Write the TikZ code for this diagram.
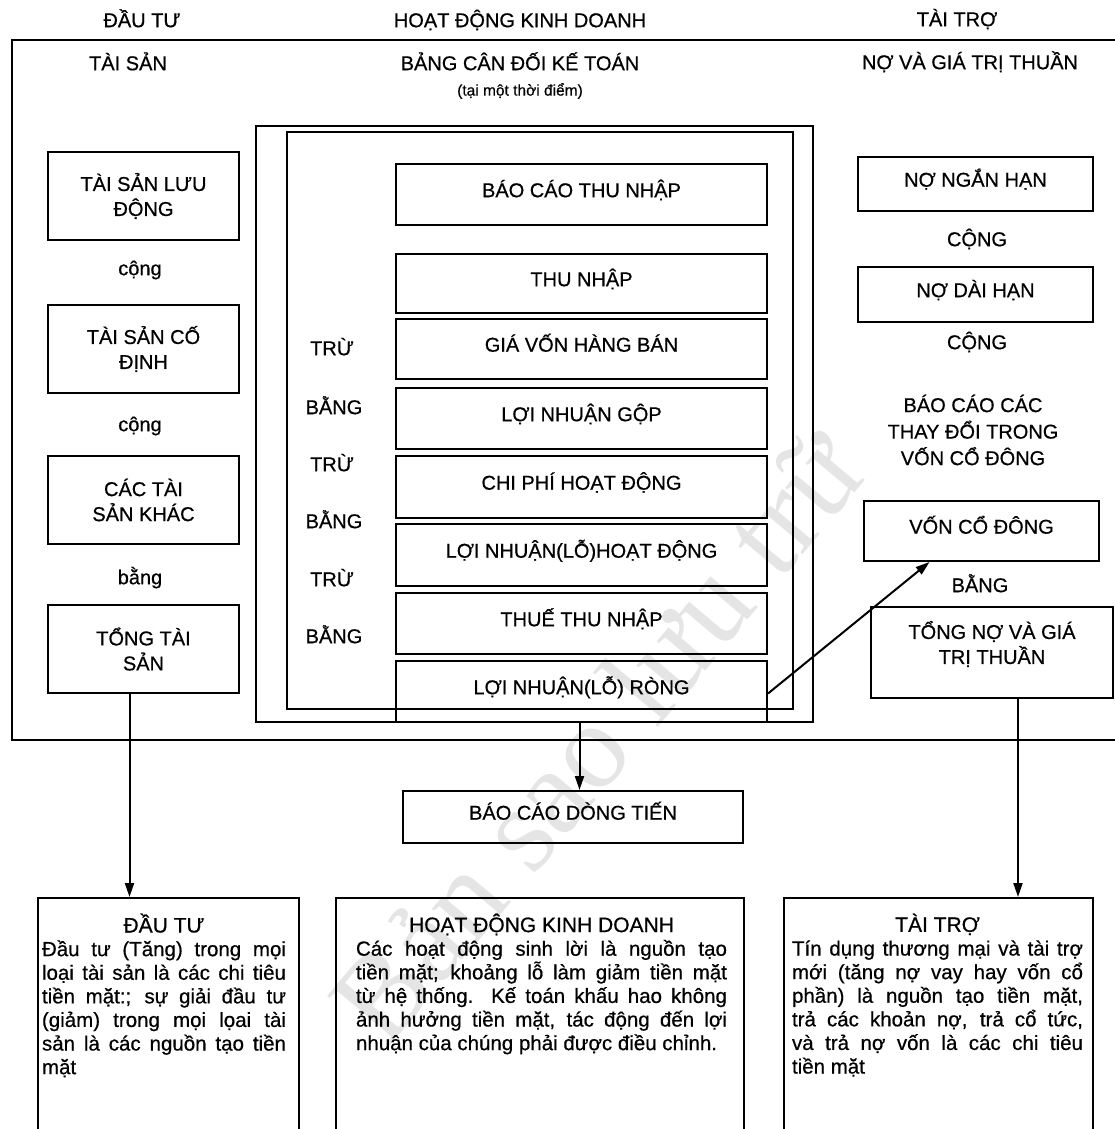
\documentclass[tikz,border=0pt]{standalone}
\usepackage{fontspec}
\setmainfont{Liberation Sans}[FakeBold=0.6]
\newfontfamily\wmfont{Liberation Serif}
\usetikzlibrary{arrows.meta}
\newcommand\hfont{\fontsize{20}{25}\selectfont}
\newcommand\sfont{\fontsize{15.5}{19}\selectfont}
\newcommand\bfont{\fontsize{20.5}{23.6}\selectfont}
\newcommand\tfont{\fontsize{21}{23.6}\selectfont}
% full-width line with stretched interword spaces, centred title line, last line
\newcommand\jline[1]{\hbox to \hsize{\spaceskip=0pt\xspaceskip=0pt\relax#1}}
\newcommand\titleline[1]{\hbox to \hsize{\vrule height 18pt width 0pt\hfil\tfont#1\hfil}}
\newcommand\lastline[1]{\hbox{#1}}
\begin{document}
\begin{tikzpicture}[x=1pt,y=-1pt,
  box/.style={draw, line width=2pt, inner sep=0pt, align=center, font=\hfont, anchor=north west},
  one/.style={text height=14.4pt, text depth=9pt},
  lbl/.style={inner sep=0pt, font=\hfont, text height=14.4pt, text depth=0pt},
  body/.style={inner sep=0pt, anchor=north},
  frame/.style={line width=2pt},
  arr/.style={line width=2pt, -{Triangle[length=14pt,width=9pt]}}]
\clip (0,0) rectangle (1115,1129);
\useasboundingbox (0,0) rectangle (1115,1129);

% watermark
\node[rotate=50, text=black!10, font=\wmfont\fontsize{122}{122}\selectfont] (wm) at (596,736) {Bản sao lưu trữ};

% column headings
\node[lbl] (h1) at (142,20) {ĐẦU TƯ};
\node[lbl] (h2) at (520,20) {HOẠT ĐỘNG KINH DOANH};
\node[lbl] (h3) at (957,19) {TÀI TRỢ};

% balance sheet frame (open to the right)
\draw[frame] (1125,40) -- (12,40) -- (12,740) -- (1125,740);
\node[lbl] (assets) at (128,63) {TÀI SẢN};
\node[lbl] (bs) at (520,63) {BẢNG CÂN ĐỐI KẾ TOÁN};
\node[lbl, font=\sfont, text height=11.2pt] (bsdate) at (520,90) {(tại một thời điểm)};
\node[lbl] (liab) at (970,62) {NỢ VÀ GIÁ TRỊ THUẦN};

% assets column
\node[box, minimum width=191, minimum height=88] (ca) at (47,151) {TÀI SẢN LƯU\\ĐỘNG};
\node[lbl] (p1) at (140,268) {cộng};
\node[box, minimum width=191, minimum height=88] (fa) at (47,304) {TÀI SẢN CỐ\\ĐỊNH};
\node[lbl] (p2) at (140,424) {cộng};
\node[box, minimum width=191, minimum height=88] (oa) at (47,455) {CÁC TÀI\\SẢN KHÁC};
\node[lbl] (eq1) at (140,577) {bằng};
\node[box, minimum width=191, minimum height=88] (ta) at (47,604) {TỔNG TÀI\\SẢN};

% income statement
\node[box, minimum width=557, minimum height=596] (isout) at (255,125) {};
\node[box, one, minimum width=371, minimum height=61] (lnr) at (395,660) {LỢI NHUẬN(LỖ) RÒNG};
\node[box, minimum width=506, minimum height=577] (isin) at (286,131) {};
\node[box, one, minimum width=371, minimum height=61] (ist) at (395,163) {BÁO CÁO THU NHẬP};
\node[box, one, minimum width=371, minimum height=59] (rev) at (395,253) {THU NHẬP};
\node[box, one, minimum width=371, minimum height=60] (cogs) at (395,318) {GIÁ VỐN HÀNG BÁN};
\node[box, one, minimum width=371, minimum height=61] (gp) at (395,387) {LỢI NHUẬN GỘP};
\node[box, one, minimum width=371, minimum height=62] (opex) at (395,455) {CHI PHÍ HOẠT ĐỘNG};
\node[box, one, minimum width=371, minimum height=62] (opinc) at (395,523) {LỢI NHUẬN(LỖ)HOẠT ĐỘNG};
\node[box, one, minimum width=371, minimum height=61] (tax) at (395,592) {THUẾ THU NHẬP};
\node[lbl] (m1) at (332,348) {TRỪ};
\node[lbl] (e1) at (334,407) {BẰNG};
\node[lbl] (m2) at (332,464) {TRỪ};
\node[lbl] (e2) at (334,521) {BẰNG};
\node[lbl] (m3) at (332,579) {TRỪ};
\node[lbl] (e3) at (334,636) {BẰNG};

% liabilities and equity column
\node[box, one, minimum width=235, minimum height=54] (std) at (857,156) {NỢ NGẮN HẠN};
\node[lbl] (p3) at (977,239) {CỘNG};
\node[box, one, minimum width=235, minimum height=55] (ltd) at (857,266) {NỢ DÀI HẠN};
\node[lbl] (p4) at (977,342) {CỘNG};
\node[inner sep=0pt, align=center, font=\fontsize{20}{26.5}\selectfont] (sce) at (973,430) {BÁO CÁO CÁC\\THAY ĐỔI TRONG\\VỐN CỔ ĐÔNG};
\node[box, one, minimum width=235, minimum height=60] (eq) at (863,500) {VỐN CỔ ĐÔNG};
\node[lbl] (eq2) at (980,585) {BẰNG};
\node[box, minimum width=242, minimum height=91] (tle) at (870,606) {TỔNG NỢ VÀ GIÁ\\TRỊ THUẦN\rule[-20pt]{0pt}{20pt}};

% cash flow statement
\node[box, one, minimum width=340, minimum height=52] (cfs) at (402,790) {BÁO CÁO DÒNG TIẾN};

% cash flow sections
\node[box, minimum width=261, minimum height=260] (inv) at (37,897) {};
\node[box, minimum width=408, minimum height=260] (ops) at (335,897) {};
\node[box, minimum width=309, minimum height=260] (fin) at (783,897) {};

\node[body] (invtxt) at (164,913.5) {\vtop{\bfont\hsize=244pt
\titleline{ĐẦU TƯ}
\jline{Đầu tư (Tăng) trong mọi}
\jline{loại tài sản là các chi tiêu}
\jline{tiền mặt:; sự giải đầu tư}
\jline{(giảm) trong mọi lọai tài}
\jline{sản là các nguồn tạo tiền}
\lastline{mặt}}};
\node[body] (opstxt) at (541.5,913.5) {\vtop{\bfont\hsize=371pt
\titleline{HOẠT ĐỘNG KINH DOANH}
\jline{Các hoạt động sinh lời là nguồn tạo}
\jline{tiền mặt; khoảng lỗ làm giảm tiền mặt}
\jline{từ hệ thống. Kế toán khấu hao không}
\jline{ảnh hưởng tiền mặt, tác động đến lợi}
\lastline{nhuận của chúng phải được điều chỉnh.}}};
\node[body] (fintxt) at (937.5,913.5) {\vtop{\bfont\hsize=291pt
\titleline{TÀI TRỢ}
\jline{Tín dụng thương mại và tài trợ}
\jline{mới (tăng nợ vay hay vốn cổ}
\jline{phần) là nguồn tạo tiền mặt,}
\jline{trả các khoản nợ, trả cổ tức,}
\jline{và trả nợ vốn là các chi tiêu}
\lastline{tiền mặt}}};

% connectors
\draw[arr] ([xshift=-14pt]ta.south) -- ([xshift=-14pt]ta.south |- inv.north);
\draw[arr] ([xshift=-2pt]lnr.south) -- ([xshift=-2pt]lnr.south |- cfs.north);
\draw[arr] ([yshift=-2pt]lnr.east) -- ([xshift=-52pt]eq.south);
\draw[arr] ([xshift=26pt]tle.south) -- ([xshift=26pt]tle.south |- fin.north);
\end{tikzpicture}
\end{document}
